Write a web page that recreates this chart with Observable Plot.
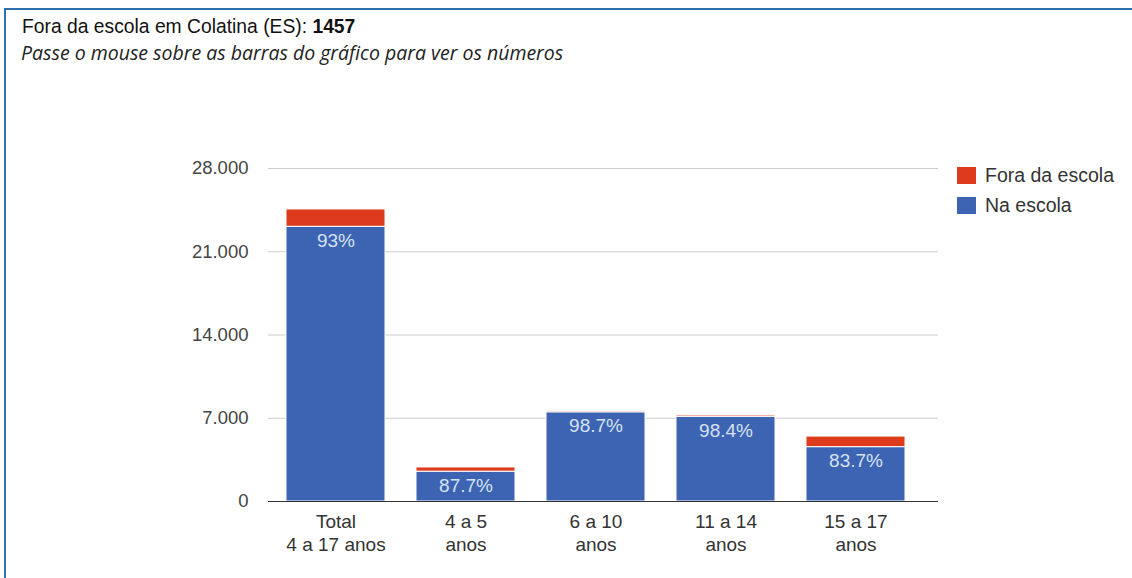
<!DOCTYPE html>
<html>
<head>
<meta charset="utf-8">
<script src="https://cdn.jsdelivr.net/npm/d3@7"></script>
<script src="https://cdn.jsdelivr.net/npm/@observablehq/plot@0.6"></script>
<style>
  html, body { margin: 0; padding: 0; background: #fff; }
  #wrap { position: relative; width: 1132px; height: 578px; overflow: hidden; background: #fff; font-family: Arial, "Liberation Sans", sans-serif; }
  #frameTop { position: absolute; left: 4px; top: 8px; width: 1128px; height: 2px; background: #2f6fae; }
  #frameLeft { position: absolute; left: 4px; top: 8px; width: 2px; height: 570px; background: #2f6fae; }
  #title { position: absolute; left: 22px; top: 16px; font-size: 19.3px; color: #111; white-space: nowrap; line-height: 22px; }
  #subtitle { position: absolute; left: 21px; top: 39px; font-size: 19.5px; font-style: italic; color: #222; font-family: "Open Sans", sans-serif; white-space: nowrap; }
  #chart { position: absolute; left: 0; top: 0; }
  #legend { position: absolute; left: 957px; top: 161px; font-size: 19.5px; color: #333; }
  .item { display: flex; align-items: center; height: 29.5px; }
  .sw { width: 19px; height: 17px; margin-right: 9px; }
</style>
</head>
<body>
<div id="wrap">
  <div id="chart"></div>
  <div id="frameTop"></div>
  <div id="frameLeft"></div>
  <div id="title">Fora da escola em Colatina (ES): <b>1457</b></div>
  <div id="subtitle">Passe o mouse sobre as barras do gráfico para ver os números</div>
  <div id="legend"></div>
</div>
<script>
const categories = ["Total\n4 a 17 anos", "4 a 5\nanos", "6 a 10\nanos", "11 a 14\nanos", "15 a 17\nanos"];
const naEscola = [23100, 2510, 7500, 7120, 4570];
const foraEscola = [1457, 352, 99, 116, 890];
const percentLabels = ["93%", "87.7%", "98.7%", "98.4%", "83.7%"];
const series = ["Fora da escola", "Na escola"];
const colors = ["#dd3b1b", "#3c64b3"];
const yTicks = [0, 7000, 14000, 21000, 28000];

const rows = [];
categories.forEach((c, i) => {
  rows.push({cat: c, serie: "Na escola", value: naEscola[i], order: 0});
  rows.push({cat: c, serie: "Fora da escola", value: foraEscola[i], order: 1});
});
const labels = categories.map((c, i) => ({cat: c, y: naEscola[i], label: percentLabels[i]}));

const fmt = d => d === 0 ? "0" : d3.format(",")(d).replace(/,/g, ".");

const chart = Plot.plot({
  width: 1132,
  height: 578,
  marginTop: 168,
  marginBottom: 77,
  marginLeft: 268,
  marginRight: 194,
  style: {fontFamily: "Arial, 'Liberation Sans', sans-serif", fontSize: "19px", background: "transparent"},
  x: {domain: categories, paddingInner: 0.24, paddingOuter: 0.12, insetLeft: 2, insetRight: 18, label: null, tickSize: 0},
  y: {domain: [0, 28000], ticks: yTicks, tickFormat: fmt, label: null, tickSize: 0},
  color: {domain: series, range: colors},
  marks: [
    Plot.gridY(yTicks.filter(d => d > 0), {stroke: "#ccc", strokeOpacity: 1}),
    Plot.barY(rows, Plot.stackY({order: "order"}, {x: "cat", y: "value", fill: "serie", stroke: "white", strokeWidth: 1})),
    Plot.ruleY([0], {stroke: "#333", strokeWidth: 1}),
    Plot.text(labels, {x: "cat", y: "y", text: "label", dy: 14, fill: "#d6e2f5", fontSize: 19}),
    Plot.axisY({ticks: yTicks, tickFormat: fmt, tickSize: 0, tickPadding: 20, fill: "#444", fontSize: 18.5}),
    Plot.axisX({tickSize: 0, tickPadding: 9, fill: "#333", fontSize: 19, lineHeight: 1.26})
  ]
});
document.getElementById("chart").appendChild(chart);

const leg = document.getElementById("legend");
series.forEach((s, i) => {
  const it = document.createElement("div");
  it.className = "item";
  it.innerHTML = `<div class="sw" style="background:${colors[i]}"></div><span>${s}</span>`;
  leg.appendChild(it);
});
</script>
</body>
</html>
